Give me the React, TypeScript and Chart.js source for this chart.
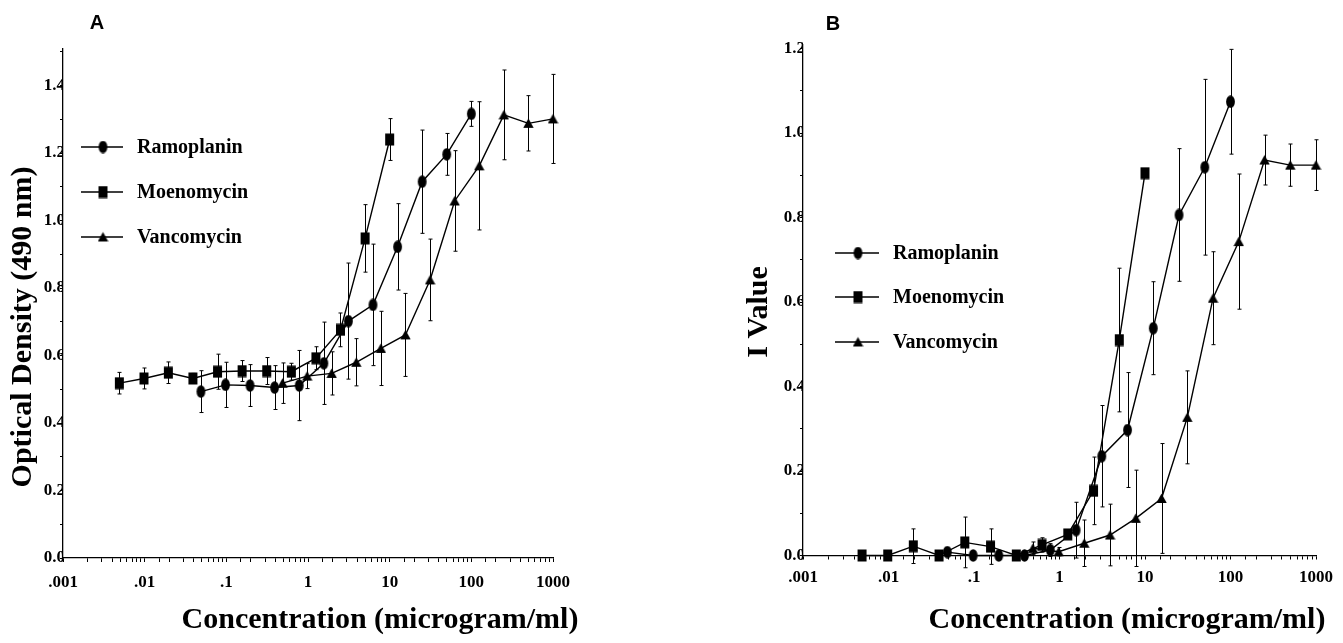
import React, { useEffect, useRef } from 'react';
import { Chart, registerables } from 'chart.js';

Chart.register(...registerables);

// ---------- data ----------
const seriesNames = ['Ramoplanin', 'Moenomycin', 'Vancomycin'];

const xTickValues = [0.001, 0.01, 0.1, 1, 10, 100, 1000];
const xTickLabels = ['.001', '.01', '.1', '1', '10', '100', '1000'];

const yTicksA = [0, 0.1, 0.2, 0.3, 0.4, 0.5, 0.6, 0.7, 0.8, 0.9, 1.0, 1.1, 1.2, 1.3, 1.4, 1.5];
const yTicksB = [0, 0.1, 0.2, 0.3, 0.4, 0.5, 0.6, 0.7, 0.8, 0.9, 1.0, 1.1, 1.2];

const ramoConc = [0.0488, 0.0977, 0.195, 0.39, 0.78, 1.5625, 3.125, 6.25, 12.5, 25, 50, 100];
const moenoConc = [0.0049, 0.0098, 0.0195, 0.039, 0.078, 0.156, 0.3125, 0.625, 1.25, 2.5, 5, 10];
const vancoConc = [0.488, 0.977, 1.95, 3.9, 7.8, 15.6, 31.25, 62.5, 125, 250, 500, 1000];

// Panel A: optical density (490 nm)
const ramoOD = [0.493, 0.513, 0.511, 0.505, 0.511, 0.577, 0.702, 0.75, 0.922, 1.115, 1.196, 1.316];
const ramoODErr = [0.062, 0.067, 0.062, 0.065, 0.104, 0.122, 0.172, 0.18, 0.128, 0.153, 0.062, 0.037];
const moenoOD = [0.518, 0.532, 0.549, 0.532, 0.552, 0.554, 0.554, 0.552, 0.592, 0.676, 0.947, 1.24];
const moenoODErr = [0.032, 0.031, 0.032, 0.015, 0.052, 0.031, 0.04, 0.025, 0.034, 0.05, 0.1, 0.062];
const vancoOD = [0.518, 0.539, 0.547, 0.58, 0.621, 0.661, 0.824, 1.058, 1.162, 1.313, 1.288, 1.301];
const vancoODErr = [0.06, 0.037, 0.064, 0.07, 0.11, 0.123, 0.121, 0.149, 0.19, 0.133, 0.082, 0.132];

// Panel B: I value
const ramoI = [0.008, 0, 0, 0, 0.013, 0.06, 0.235, 0.297, 0.538, 0.806, 0.919, 1.074];
const ramoIErr = [0, 0, 0, 0, 0.015, 0.066, 0.12, 0.136, 0.11, 0.157, 0.208, 0.124];
const moenoI = [0, 0, 0.022, 0, 0.031, 0.021, 0, 0.025, 0.05, 0.153, 0.51, 0.905];
const moenoIErr = [0, 0, 0.041, 0, 0.06, 0.042, 0, 0.017, 0.01, 0.08, 0.17, 0];
const vancoI = [0.017, 0.009, 0.029, 0.0485, 0.088, 0.135, 0.327, 0.609, 0.743, 0.936, 0.924, 0.924];
const vancoIErr = [0.015, 0.01, 0.055, 0.073, 0.114, 0.13, 0.11, 0.11, 0.16, 0.059, 0.05, 0.06];

// ---------- styling / layout ----------
const SERIF = '"Liberation Serif", "Times New Roman", serif';

type PanelSpec = {
  letter: string;
  letterPos: [number, number];
  yTitle: string;
  yTitlePos: [number, number];
  xTitle: string;
  xTitlePos: [number, number];
  yMax: number;
  yTicks: number[];
  yAxisWidth: number;
  padTop: number;
  padRight: number;
  padBottom: number;
  xTickPad: number;
  legend: { lineX0: number; lineX1: number; markerX: number; textX: number; rows: number[] };
  values: number[][];
  errors: number[][];
};

const panelA: PanelSpec = {
  letter: 'A',
  letterPos: [97, 23],
  yTitle: 'Optical Density (490 nm)',
  yTitlePos: [23, 327],
  xTitle: 'Concentration (microgram/ml)',
  xTitlePos: [380, 620],
  yMax: 1.51,
  yTicks: yTicksA,
  yAxisWidth: 63,
  padTop: 48.4,
  padRight: 119,
  padBottom: 55,
  xTickPad: 10,
  legend: { lineX0: 81, lineX1: 123, markerX: 103, textX: 137, rows: [147, 192, 237] },
  values: [ramoOD, moenoOD, vancoOD],
  errors: [ramoODErr, moenoODErr, vancoODErr],
};

const panelB: PanelSpec = {
  letter: 'B',
  letterPos: [161, 24],
  yTitle: 'I Value',
  yTitlePos: [87, 312],
  xTitle: 'Concentration (microgram/ml)',
  xTitlePos: [455, 620],
  yMax: 1.21,
  yTicks: yTicksB,
  yAxisWidth: 131,
  padTop: 44.3,
  padRight: 27,
  padBottom: 57.5,
  xTickPad: 8,
  legend: { lineX0: 163, lineX1: 207, markerX: 186, textX: 221, rows: [253, 297, 342] },
  values: [ramoI, moenoI, vancoI],
  errors: [ramoIErr, moenoIErr, vancoIErr],
};

const concs = [ramoConc, moenoConc, vancoConc];

function makeMarker(kind: string): HTMLCanvasElement {
  const c = document.createElement('canvas');
  const w = 11, h = 13;
  c.width = w;
  c.height = h;
  const ctx = c.getContext('2d')!;
  ctx.fillStyle = '#000';
  ctx.beginPath();
  if (kind === 'circle') {
    ctx.ellipse(w / 2, h / 2, 4.4, 6.2, 0, 0, Math.PI * 2);
  } else if (kind === 'rect') {
    ctx.rect(1, 0.5, 9, 12);
  } else {
    ctx.moveTo(w / 2, 1.5);
    ctx.lineTo(w - 0.3, 11);
    ctx.lineTo(0.3, 11);
    ctx.closePath();
  }
  ctx.fill();
  return c;
}

function buildChart(canvas: HTMLCanvasElement, spec: PanelSpec) {
  const markers = [makeMarker('circle'), makeMarker('rect'), makeMarker('triangle')];

  const datasets = seriesNames.map((name, si) => ({
    label: name,
    data: concs[si].map((x, i) => ({ x, y: spec.values[si][i] })),
    borderColor: '#000',
    backgroundColor: '#000',
    borderWidth: 1.4,
    pointStyle: markers[si],
    pointRadius: 6,
    tension: 0,
    fill: false,
    clip: false,
  }));

  const decor = {
    id: 'decor',
    afterDatasetsDraw(chart: any) {
      const ctx = chart.ctx as CanvasRenderingContext2D;
      const xs = chart.scales.x;
      const ys = chart.scales.y;
      // error bars
      ctx.save();
      ctx.strokeStyle = '#000';
      ctx.lineWidth = 1;
      seriesNames.forEach((_, si) => {
        concs[si].forEach((c, i) => {
          const e = spec.errors[si][i];
          if (!e) return;
          const v = spec.values[si][i];
          const px = Math.round(xs.getPixelForValue(c)) + 0.5;
          const top = ys.getPixelForValue(v + e);
          const bot = ys.getPixelForValue(v - e);
          ctx.beginPath();
          ctx.moveTo(px, top);
          ctx.lineTo(px, bot);
          ctx.moveTo(px - 2, top);
          ctx.lineTo(px + 2, top);
          ctx.moveTo(px - 2, bot);
          ctx.lineTo(px + 2, bot);
          ctx.stroke();
        });
      });
      ctx.restore();

      // legend
      ctx.save();
      ctx.strokeStyle = '#000';
      ctx.lineWidth = 1.3;
      ctx.fillStyle = '#000';
      ctx.font = `bold 20px ${SERIF}`;
      ctx.textAlign = 'left';
      ctx.textBaseline = 'middle';
      const L = spec.legend;
      seriesNames.forEach((name, si) => {
        const y = L.rows[si];
        ctx.beginPath();
        ctx.moveTo(L.lineX0, y);
        ctx.lineTo(L.lineX1, y);
        ctx.stroke();
        const m = markers[si];
        ctx.drawImage(m, L.markerX - m.width / 2, y - m.height / 2);
        ctx.fillText(name, L.textX, y + 1);
      });
      ctx.restore();

      // titles
      ctx.save();
      ctx.fillStyle = '#000';
      ctx.textAlign = 'center';
      ctx.textBaseline = 'middle';
      ctx.font = `bold 20px "Liberation Sans", Arial, sans-serif`;
      ctx.fillText(spec.letter, spec.letterPos[0], spec.letterPos[1]);
      ctx.font = `bold 30px ${SERIF}`;
      ctx.fillText(spec.xTitle, spec.xTitlePos[0], spec.xTitlePos[1]);
      ctx.translate(spec.yTitlePos[0], spec.yTitlePos[1]);
      ctx.rotate(-Math.PI / 2);
      ctx.fillText(spec.yTitle, 0, 0);
      ctx.restore();
    },
  };

  const tickFont = { family: SERIF, size: 17, weight: 'bold' as const };

  return new Chart(canvas, {
    type: 'line',
    data: { datasets: datasets as any },
    options: {
      animation: false,
      responsive: false,
      maintainAspectRatio: false,
      events: [],
      layout: { padding: { left: 0, top: spec.padTop, right: spec.padRight, bottom: spec.padBottom } },
      plugins: { legend: { display: false }, tooltip: { enabled: false } },
      scales: {
        x: {
          type: 'logarithmic',
          min: 0.001,
          max: 1000,
          position: 'bottom',
          border: { display: true, color: '#000', width: 1.3 },
          grid: {
            display: true,
            drawOnChartArea: false,
            drawTicks: true,
            tickLength: 4,
            tickColor: '#000',
            tickWidth: 1,
            color: '#000',
          },
          ticks: {
            autoSkip: false,
            maxRotation: 0,
            minRotation: 0,
            padding: spec.xTickPad,
            color: '#000',
            font: tickFont,
            callback: (value: any) => {
              const v = Number(value);
              const lg = Math.log10(v);
              if (Math.abs(lg - Math.round(lg)) > 1e-6) return '';
              const idx = xTickValues.findIndex((t) => Math.abs(Math.log10(t) - lg) < 1e-6);
              return idx >= 0 ? xTickLabels[idx] : '';
            },
          },
          afterFit: (s: any) => {
            s.height = 30;
          },
        },
        y: {
          type: 'linear',
          min: 0,
          max: spec.yMax,
          border: { display: true, color: '#000', width: 1.3 },
          grid: {
            display: true,
            drawOnChartArea: false,
            drawTicks: true,
            tickLength: 3,
            tickColor: '#000',
            tickWidth: 1,
            color: '#000',
          },
          ticks: {
            padding: -5,
            color: '#000',
            font: tickFont,
            callback: (value: any) => {
              const n = Math.round(Number(value) * 10);
              return n % 2 === 0 ? (n / 10).toFixed(1) : '';
            },
          },
          afterBuildTicks: (s: any) => {
            s.ticks = spec.yTicks.map((v) => ({ value: v }));
          },
          afterFit: (s: any) => {
            s.width = spec.yAxisWidth;
          },
        },
      },
    } as any,
    plugins: [decor],
  });
}

function Panel({ spec, left, width }: { spec: PanelSpec; left: number; width: number }) {
  const ref = useRef<HTMLCanvasElement | null>(null);
  useEffect(() => {
    if (!ref.current) return;
    const chart = buildChart(ref.current, spec);
    return () => chart.destroy();
  }, [spec]);
  return (
    <canvas
      ref={ref}
      width={width}
      height={643}
      style={{ position: 'absolute', left, top: 0, width, height: 643 }}
    />
  );
}

export default function App() {
  return (
    <div style={{ position: 'fixed', left: 0, top: 0, width: 1343, height: 643, background: '#fff' }}>
      <Panel spec={panelA} left={0} width={672} />
      <Panel spec={panelB} left={672} width={671} />
    </div>
  );
}
